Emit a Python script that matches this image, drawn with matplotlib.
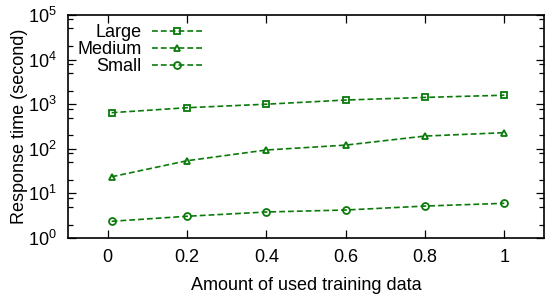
import numpy as np
import matplotlib
matplotlib.use("Agg")
import matplotlib.pyplot as plt
from matplotlib.ticker import LogLocator, NullFormatter

plt.rcParams['font.family'] = ['Liberation Sans', 'DejaVu Sans']
plt.rcParams['mathtext.fontset'] = 'custom'
plt.rcParams['mathtext.rm'] = 'Liberation Sans'

fraction = [0.01, 0.2, 0.4, 0.6, 0.8, 1.0]
large = [645, 834, 1000, 1240, 1420, 1590]
medium = [23.6, 54, 94, 121, 193, 230]
small = [2.37, 3.07, 3.83, 4.24, 5.2, 6.0]

green = '#0a7a0a'

fig = plt.figure(figsize=(5.45, 2.97), dpi=100)
ax = fig.add_axes([68/545, 1 - 238/297, (544-68)/545, (238-15)/297])

style = dict(ls='--', dashes=(3.5, 1.8), color=green, mfc='none', ms=5, mew=1.3, lw=1.2)
ax.plot(fraction, large, marker='s', label='Large', **style)
ax.plot(fraction, medium, marker='^', label='Medium', **style)
ax.plot(fraction, small, marker='o', label='Small', **style)

ax.set_yscale('log')
ax.set_ylim(1, 1e5)
ax.set_xlim(-0.1, 1.1)
ax.set_xticks([0, 0.2, 0.4, 0.6, 0.8, 1])
ax.set_xticklabels(['0', '0.2', '0.4', '0.6', '0.8', '1'])
ax.yaxis.set_major_locator(LogLocator(base=10, numticks=10))
ax.yaxis.set_minor_locator(LogLocator(base=10, subs=[2, 5, 8], numticks=10))
ax.yaxis.set_minor_formatter(NullFormatter())

ax.tick_params(which='both', direction='in', top=True, right=True, labelsize=13, pad=8)
ax.tick_params(which='major', length=6, width=0.9)
ax.tick_params(which='minor', length=3.5, width=0.9)
for s in ax.spines.values():
    s.set_linewidth(1.2)

ax.set_xlabel('Amount of used training data', fontsize=13, labelpad=8)
ax.set_ylabel('Response time (second)', fontsize=13, labelpad=0)

ax.legend(loc='upper left', frameon=False, markerfirst=False, fontsize=13,
          handlelength=2.8, labelspacing=0.0, borderaxespad=0.1,
          bbox_to_anchor=(0.0, 1.0), handletextpad=0.6)

fig.savefig('out.png', dpi=100)
